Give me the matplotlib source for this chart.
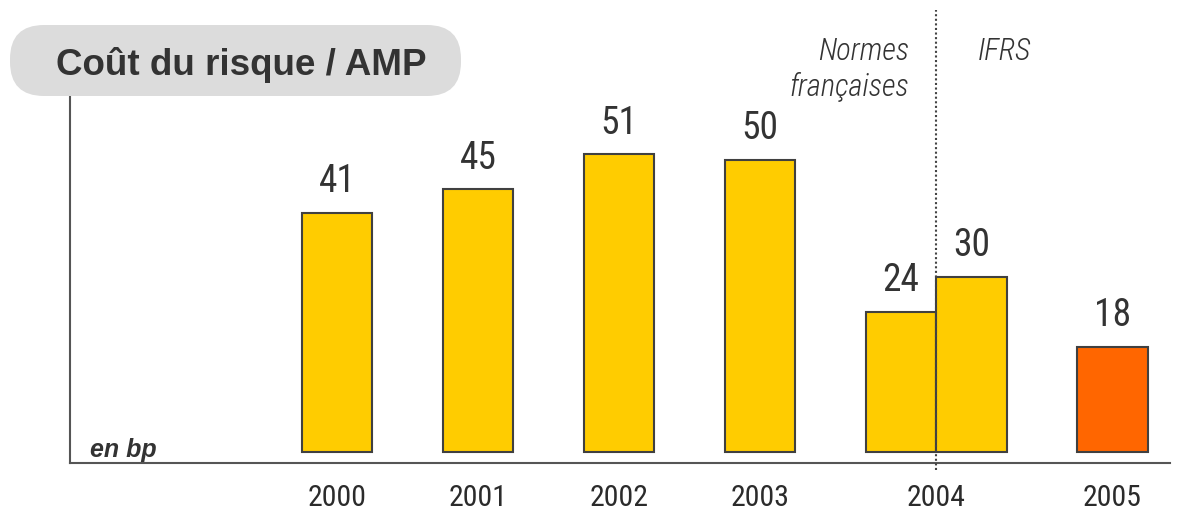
import matplotlib
matplotlib.use("Agg")
import matplotlib.pyplot as plt
from matplotlib.patches import FancyBboxPatch

# data
years = ["2000", "2001", "2002", "2003", "2004", "2005"]
bar_pos = [0, 1, 2, 3, 4, 4.5, 5.5]
bar_vals = [41, 45, 51, 50, 24, 30, 18]
bar_cols = ["#FFCC00"] * 6 + ["#FF6600"]
year_pos = [0, 1, 2, 3, 4.25, 5.5]

narrow = ["Roboto Condensed", "Liberation Sans Narrow", "Archivo Narrow", "DejaVu Sans"]
dark = "#333333"

def main():
    fig = plt.figure(figsize=(11.77, 5.12), dpi=100)
    ax = fig.add_axes([70 / 1177, 49 / 512, 1100 / 1177, 368 / 512])

    ax.bar(bar_pos, bar_vals, width=0.5, color=bar_cols,
           edgecolor="#404040", linewidth=1.5, zorder=3)
    for x, v in zip(bar_pos, bar_vals):
        ax.annotate(str(v), (x, v), xytext=(0, 15), textcoords="offset points",
                    ha="center", va="baseline", fontsize=27, color=dark,
                    family=narrow)

    ax.set_xlim(-1.894, 5.908)
    ax.set_ylim(-1.89, 61.2)
    ax.set_xticks(year_pos)
    ax.set_xticklabels(years, fontsize=21.5, color="#2b2b2b", family=narrow)
    ax.tick_params(axis="x", length=0, pad=15)
    ax.set_yticks([])
    for s in ["top", "right"]:
        ax.spines[s].set_visible(False)
    for s in ["left", "bottom"]:
        ax.spines[s].set_color("#555555")
        ax.spines[s].set_linewidth(1.5)

    # separator between french norms and IFRS
    ax.plot([4.25, 4.25], [-3.1, 75.8], ls=(0, (1, 1.2)), color="#444444",
            lw=1.5, clip_on=False, zorder=4)

    fig.text(90 / 1177, 1 - 457 / 512, "en bp", fontsize=18, va="baseline",
             fontweight="bold", fontstyle="italic", color=dark,
             family="Liberation Sans")

    fig.text(909 / 1177, 1 - 60 / 512, "Normes", ha="right", va="baseline",
             fontsize=22, fontstyle="italic", fontweight="light", color=dark,
             family=narrow)
    fig.text(909 / 1177, 1 - 96 / 512, "françaises", ha="right", va="baseline",
             fontsize=22, fontstyle="italic", fontweight="light", color=dark,
             family=narrow)
    fig.text(978 / 1177, 1 - 60 / 512, "IFRS", ha="left", va="baseline",
             fontsize=22, fontstyle="italic", fontweight="light", color=dark,
             family=narrow)

    # title pill
    box = FancyBboxPatch((10 + 34, 512 - 96 + 34), 451 - 68, 71 - 68,
                         boxstyle="round,pad=34,rounding_size=34",
                         transform=None, facecolor="#DCDCDC", edgecolor="none")
    fig.patches.append(box)
    fig.text(241 / 1177, 1 - 75 / 512, "Coût du risque / AMP", ha="center",
             va="baseline", fontsize=26.5, fontweight="bold", color=dark,
             family="Liberation Sans")

    fig.savefig("out.png", dpi=100)

if __name__ == "__main__":
    main()
